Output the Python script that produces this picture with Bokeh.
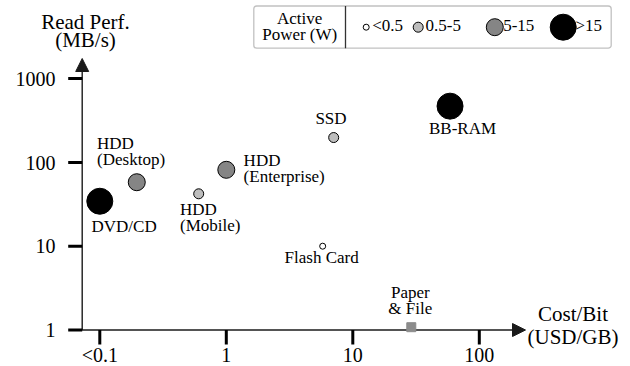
from bokeh.plotting import figure
from bokeh.models import Range1d, Arrow, NormalHead, BoxAnnotation, Grid
from bokeh.embed import file_html
from bokeh.resources import INLINE
from bokeh.core.properties import value

# ---------------- data ----------------
devices = ["DVD/CD", "HDD\n(Desktop)", "HDD\n(Mobile)", "HDD\n(Enterprise)",
           "SSD", "Flash Card", "BB-RAM"]
cost_usd_gb = [0.1, 0.196, 0.605, 1.0, 7.06, 5.78, 58.7]
read_mb_s = [34.4, 58.0, 42.2, 81.6, 198.0, 10.0, 469.0]
power_class = [">15", "5-15", "0.5-5", "5-15", "0.5-5", "<0.5", ">15"]

paper_label = ["Paper\n& File"]
paper_cost = [29.0]
paper_read = [1.08]

power_classes = ["<0.5", "0.5-5", "5-15", ">15"]
legend_title = "Active\nPower (W)"

x_ticks = [0.1, 1, 10, 100]
x_tick_labels = ["<0.1", "1", "10", "100"]
y_ticks = [1, 10, 100, 1000]
y_tick_labels = ["1", "10", "100", "1000"]
x_title = "Cost/Bit\n(USD/GB)"
y_title = "Read Perf.\n(MB/s)"

# ---------------- styles / layout ----------------
FONT = value("Liberation Serif")
class_size = {"<0.5": 6, "0.5-5": 10, "5-15": 17, ">15": 26}
class_fill = {"<0.5": "white", "0.5-5": "#bdbdbd", "5-15": "#858585", ">15": "black"}

# label offsets (px right, px down) from point to first-line baseline, alignment
label_style = {
    "DVD/CD": (-8.3, 31.3, "left"),
    "HDD\n(Desktop)": (-39.7, -32.7, "left"),
    "HDD\n(Mobile)": (-18.7, 21.7, "left"),
    "HDD\n(Enterprise)": (17.3, -3.3, "left"),
    "SSD": (-2.7, -13.0, "center"),
    "Flash Card": (-1.0, 17.3, "center"),
    "BB-RAM": (-21.0, 28.3, "left"),
    "Paper\n& File": (-1.0, -28.7, "center"),
}
LINE_H = 15.5
FS_TICK, FS_TITLE, FS_LAB = 20, 21, 17
RAISE = 0.34  # baseline correction (fraction of font size)

W, H = 630, 366
X_PX_01 = 99.3
X_DEC = 126.5
Y_PX_1 = 329.5
Y_DEC = 83.8


def dx(c):
    return 10 ** (-1 + (c - X_PX_01) / X_DEC)


def dy(c):
    return 10 ** ((Y_PX_1 - c) / Y_DEC)


def shift_x(v, px):
    return v * 10 ** (px / X_DEC)


def shift_y(v, px_down):
    return v * 10 ** (-px_down / Y_DEC)


def ty(c, fs):
    """screen baseline -> data y, with renderer baseline correction"""
    return dy(c - RAISE * fs)


p = figure(width=W, height=H, x_axis_type="log", y_axis_type="log",
           x_axis_location=None, y_axis_location=None,
           x_range=Range1d(dx(0), dx(W)), y_range=Range1d(dy(H), dy(0)),
           output_backend="svg", toolbar_location=None, min_border=0,
           outline_line_color=None, background_fill_color="white",
           border_fill_color="white")
for g in p.select(type=Grid):
    g.visible = False

# ---------------- axes ----------------
AX_COL = "#1a1a1a"
y_axis_x = dx(81.7)
x_arrow = Arrow(end=NormalHead(size=13, fill_color=AX_COL, line_color=AX_COL),
                x_start=dx(70), y_start=1, x_end=dx(525), y_end=1,
                line_color=AX_COL, line_width=1.4, level="underlay")
y_arrow = Arrow(end=NormalHead(size=13, fill_color=AX_COL, line_color=AX_COL),
                x_start=y_axis_x, y_start=1, x_end=y_axis_x, y_end=dy(58),
                line_color=AX_COL, line_width=1.4, level="underlay")
p.add_layout(x_arrow)
p.add_layout(y_arrow)

# ticks
p.segment(x0=[dx(67.7)] * len(y_ticks), y0=y_ticks,
          x1=[y_axis_x] * len(y_ticks), y1=y_ticks,
          line_width=3, line_color="black", line_cap="butt")
p.segment(x0=x_ticks, y0=[1] * len(x_ticks), x1=x_ticks,
          y1=[dy(344)] * len(x_ticks),
          line_width=3, line_color="black", line_cap="butt")

# tick labels
p.text(x=[dx(55)] * len(y_ticks),
       y=[shift_y(v, 7 - RAISE * FS_TICK) for v in y_ticks],
       text=y_tick_labels, text_align="right", text_baseline="alphabetic",
       text_font=FONT, text_font_size=f"{FS_TICK}px", text_color="black")
p.text(x=x_ticks, y=[ty(361.5, FS_TICK)] * len(x_ticks), text=x_tick_labels,
       text_align="center", text_baseline="alphabetic",
       text_font=FONT, text_font_size=f"{FS_TICK}px", text_color="black")


# axis titles
def title_lines(s, xc, yb, gap):
    lines = s.split("\n")
    p.text(x=[dx(xc)] * len(lines),
           y=[ty(yb + i * gap, FS_TITLE) for i in range(len(lines))],
           text=lines, text_align="center", text_baseline="alphabetic",
           text_font=FONT, text_font_size=f"{FS_TITLE}px", text_color="black")


title_lines(y_title, 85, 28.3, 18.7)
title_lines(x_title, 572.5, 320.7, 22.6)

# ---------------- points ----------------
p.scatter(x=cost_usd_gb, y=read_mb_s,
          size=[class_size[c] for c in power_class],
          fill_color=[class_fill[c] for c in power_class],
          line_color="black", line_width=1)
p.scatter(x=paper_cost, y=paper_read, marker="square", size=9,
          fill_color="#8c8c8c", line_color="#8c8c8c")

# point labels
lx, ly, lt, la = [], [], [], []
for name, xv, yv in list(zip(devices, cost_usd_gb, read_mb_s)) + \
        list(zip(paper_label, paper_cost, paper_read)):
    ox, oy, al = label_style[name]
    for i, line in enumerate(name.split("\n")):
        lx.append(shift_x(xv, ox))
        ly.append(shift_y(yv, oy + i * LINE_H - RAISE * FS_LAB))
        lt.append(line)
        la.append(al)
p.text(x=lx, y=ly, text=lt, text_align=la, text_baseline="alphabetic",
       text_font=FONT, text_font_size=f"{FS_LAB}px", text_color="black")

# ---------------- legend ----------------
box = BoxAnnotation(left=dx(253.3), right=dx(610.7),
                    top=dy(5.5), bottom=dy(47.7),
                    fill_color=None, line_color="#333333", line_width=1.3,
                    border_radius=3)
p.add_layout(box)
p.segment(x0=[dx(345)], y0=[dy(5.5)], x1=[dx(345)],
          y1=[dy(47.7)], line_color="#333333", line_width=1.3)
tl = legend_title.split("\n")
p.text(x=[dx(299.2)] * len(tl), y=[ty(23.5, FS_LAB), ty(39.5, FS_LAB)], text=tl,
       text_align="center", text_baseline="alphabetic",
       text_font=FONT, text_font_size=f"{FS_LAB}px", text_color="black")
leg_cx = [365.7, 417.7, 494.3, 562.7]
leg_tx = [371.7, 425.0, 502.7, 575.0]
p.scatter(x=[dx(v) for v in leg_cx], y=[dy(26.7)] * 4,
          size=[class_size[c] for c in power_classes],
          fill_color=[class_fill[c] for c in power_classes],
          line_color="black", line_width=1)
p.text(x=[dx(v) for v in leg_tx], y=[ty(31, FS_LAB)] * 4, text=power_classes,
       text_align="left", text_baseline="alphabetic",
       text_font=FONT, text_font_size=f"{FS_LAB}px", text_color="black")

open("out.html", "w").write(file_html(p, INLINE))
